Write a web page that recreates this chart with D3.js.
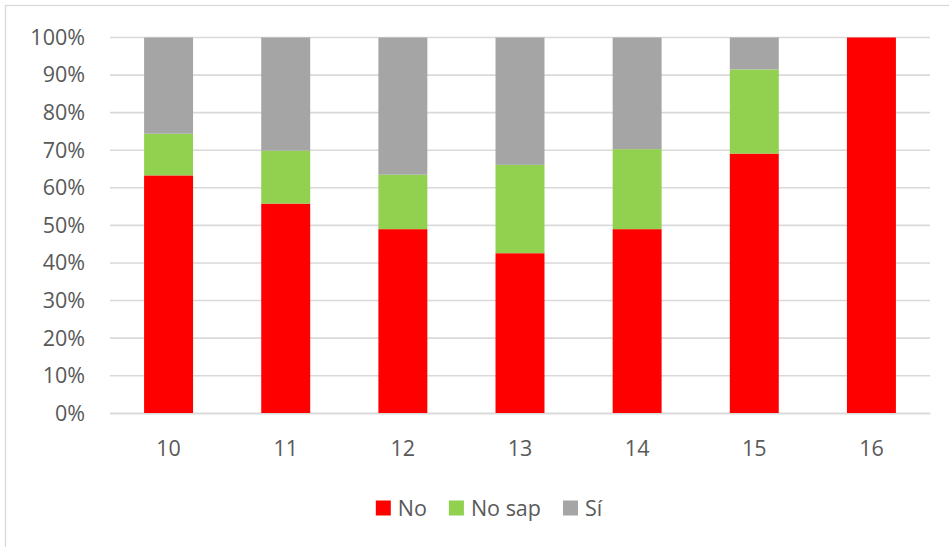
<!DOCTYPE html>
<html>
<head>
<meta charset="utf-8">
<script src="https://cdn.jsdelivr.net/npm/d3@7"></script>
<style>
  html, body { margin: 0; padding: 0; background: #fff; }
  svg { display: block; }
  text { font-family: "Open Sans", "Noto Sans", sans-serif; fill: #595959; }
</style>
</head>
<body>
<div id="chart"></div>
<script>
// Age groups on the x axis
const categories = ["10", "11", "12", "13", "14", "15", "16"];
// Share of answers per age (percent)
const noValues    = [63.3, 55.8, 49.0, 42.6, 49.0, 69.1, 100];
const noSapValues = [11.1, 14.1, 14.5, 23.5, 21.3, 22.4, 0];
const siValues    = [25.6, 30.1, 36.5, 33.9, 29.7, 8.5, 0];
const seriesNames = ["No", "No sap", "Sí"];
const seriesColors = ["#ff0000", "#92d050", "#a5a5a5"];
const yTicks = [0, 10, 20, 30, 40, 50, 60, 70, 80, 90, 100];

const W = 949, H = 547;
const margin = { left: 110, right: 19, top: 37.5, bottom: 133.7 };
const fontSize = 21.5;

const svg = d3.select("#chart").append("svg")
  .attr("width", W).attr("height", H);

// Chart frame
svg.append("rect")
  .attr("x", 5.5).attr("y", 5.5)
  .attr("width", W + 20).attr("height", H + 20)
  .attr("fill", "#fff").attr("stroke", "#d9d9d9").attr("stroke-width", 1.3);

const x = d3.scaleBand()
  .domain(categories)
  .range([margin.left, W - margin.right])
  .padding(0);

const y = d3.scaleLinear()
  .domain([0, 100])
  .range([H - margin.bottom, margin.top]);

// Horizontal gridlines
svg.append("g")
  .selectAll("line")
  .data(yTicks)
  .join("line")
  .attr("x1", margin.left).attr("x2", W - margin.right)
  .attr("y1", d => y(d)).attr("y2", d => y(d))
  .attr("stroke", "#d9d9d9").attr("stroke-width", 1.6);

// Y axis labels
const yAxis = d3.axisLeft(y).tickValues(yTicks).tickFormat(d => d + "%").tickSize(0).tickPadding(0);
svg.append("g")
  .attr("transform", `translate(${85},0)`)
  .call(yAxis)
  .call(g => g.select(".domain").remove())
  .call(g => g.selectAll("text")
    .attr("font-size", fontSize)
    .attr("font-family", "'Open Sans', sans-serif")
    .attr("fill", "#595959"));

// Stacked bars
const rows = categories.map((c, i) => ({ cat: c, "No": noValues[i], "No sap": noSapValues[i], "Sí": siValues[i] }));
const stack = d3.stack().keys(seriesNames);
const stacked = stack(rows);
const barW = x.bandwidth() * 0.418;

svg.append("g")
  .selectAll("g")
  .data(stacked)
  .join("g")
  .attr("fill", (d, i) => seriesColors[i])
  .selectAll("rect")
  .data(d => d)
  .join("rect")
  .attr("x", d => x(d.data.cat) + (x.bandwidth() - barW) / 2)
  .attr("width", barW)
  .attr("y", d => y(d[1]))
  .attr("height", d => y(d[0]) - y(d[1]));

// X axis baseline and labels
const xAxis = d3.axisBottom(x).tickSize(0).tickPadding(0);
svg.append("g")
  .attr("transform", `translate(0,${y(0)})`)
  .call(xAxis)
  .call(g => g.select(".domain")
    .attr("stroke", "#d9d9d9").attr("stroke-width", 1.6))
  .call(g => g.selectAll("text")
    .attr("dy", null)
    .attr("y", 43)
    .attr("font-size", fontSize)
    .attr("font-family", "'Open Sans', sans-serif")
    .attr("fill", "#595959"));

// Legend
const legend = svg.append("g");
const sq = 15, gapText = 7, gapItem = 22;
let cx = 0;
seriesNames.forEach((name, i) => {
  const g = legend.append("g").attr("transform", `translate(${cx},0)`);
  g.append("rect")
    .attr("x", 0).attr("y", -sq / 2)
    .attr("width", sq).attr("height", sq)
    .attr("fill", seriesColors[i]);
  const t = g.append("text")
    .attr("x", sq + gapText).attr("y", 0)
    .attr("dy", "0.36em")
    .attr("font-size", fontSize)
    .text(name);
  cx += sq + gapText + t.node().getComputedTextLength() + gapItem;
});
const legendW = cx - gapItem;
legend.attr("transform", `translate(${489 - legendW / 2},${508})`);
</script>
</body>
</html>
